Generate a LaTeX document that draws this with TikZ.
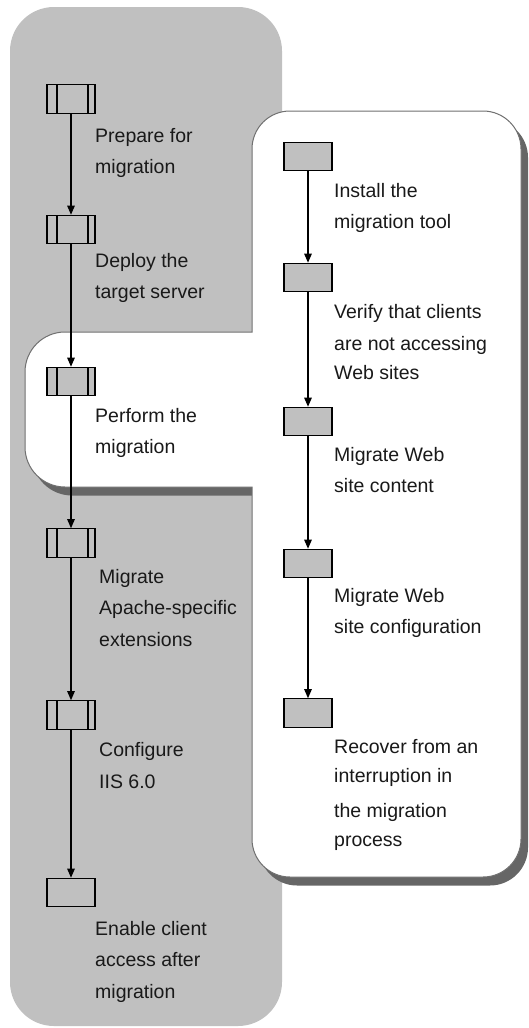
\documentclass[tikz,border=0pt]{standalone}
\usepackage{fontspec}
\setmainfont{Liberation Sans}
\usetikzlibrary{arrows.meta}
\definecolor{panelgray}{HTML}{C0C0C0}
\definecolor{shadowgray}{HTML}{666666}
\definecolor{edgegray}{HTML}{707070}

% outline of the white sub-process panel (right column plus tab on the left)
\newcommand{\subpanelpath}{%
  (252,332) -- (252,149) arc[start angle=180,end angle=270,radius=38]
  -- (483,111) arc[start angle=270,end angle=360,radius=38]
  -- (521,839) arc[start angle=0,end angle=90,radius=38]
  -- (290,877) arc[start angle=90,end angle=180,radius=38]
  -- (252,487) -- (65,487) arc[start angle=90,end angle=180,radius=40]
  -- (25,372) arc[start angle=180,end angle=270,radius=40] -- cycle}

\begin{document}
\begin{tikzpicture}[x=1pt,y=-1pt,
  stepbox/.style={draw=black, line width=1.1pt, fill=panelgray,
    minimum width=48pt, minimum height=28.5pt, inner sep=0pt},
  procbox/.style={stepbox,
    path picture={
      \draw[line width=1.1pt]
        ([xshift=10pt]path picture bounding box.north west) --
        ([xshift=10pt]path picture bounding box.south west);
      \draw[line width=1.1pt]
        ([xshift=-7pt]path picture bounding box.north east) --
        ([xshift=-7pt]path picture bounding box.south east);}},
  plainbox/.style={draw=black, line width=1.1pt, fill=panelgray,
    minimum width=48pt, minimum height=28.5pt, inner sep=0pt},
  flow/.style={line width=1.1pt, draw=black,
    -{Triangle[length=9pt,width=7.5pt]}},
  % labels are placed by the baseline of their last line
  lbl/.style={font=\fontsize{19.5}{31.5}\selectfont, align=left,
    anchor=base west, inner sep=0pt, text=black!90}]

\useasboundingbox (0,0) rectangle (529,1028);

% main gray panel
\fill[panelgray] (10,7) [rounded corners=44pt] rectangle (282,1026);

% white sub-process panel with its drop shadow
\fill[shadowgray, xshift=7pt, yshift=-8.5pt] \subpanelpath;
\filldraw[fill=white, draw=edgegray, line width=1pt] \subpanelpath;

% main sequence
\node[procbox]  (p1) at (71,99)    {};
\node[procbox]  (p2) at (71,229.5) {};
\node[procbox]  (p3) at (71,381.5) {};
\node[procbox]  (p4) at (71,543)   {};
\node[procbox]  (p5) at (71,715)   {};
\node[plainbox] (p6) at (71,892.5) {};

\node[lbl] (l1) at (95,173.5) {Prepare for\\migration};
\node[lbl] (l2) at (95,298.5) {Deploy the\\target server};
\node[lbl] (l3) at (95,453.5) {Perform the\\migration};
\node[lbl] (l4) at (99,646)   {Migrate\\Apache-specific\\extensions};
\node[lbl] (l5) at (99,788)   {Configure\\IIS 6.0};
\node[lbl] (l6) at (95,998)   {Enable client\\access after\\migration};

\draw[flow] (p1) -- (p2);
\draw[flow] (p2) -- (p3);
\draw[flow] (p3) -- (p4);
\draw[flow] (p4) -- (p5);
\draw[flow] (p5) -- (p6);

% migration sub-steps
\node[stepbox] (s1) at (308,156.5) {};
\node[stepbox] (s2) at (308,277.5) {};
\node[stepbox] (s3) at (308,421.5) {};
\node[stepbox] (s4) at (308,563.5) {};
\node[stepbox] (s5) at (308,713)   {};

\node[lbl] (m1) at (334,228.5) {Install the\\migration tool};
\node[lbl] (m2) at (334,379)   {Verify that clients\\[0.5pt]are not accessing\\[-2.5pt]Web sites};
\node[lbl] (m3) at (334,492.5) {Migrate Web\\site content};
\node[lbl] (m4) at (334,633.5) {Migrate Web\\site configuration};
\node[lbl] (m5) at (334,846)   {Recover from an\\[-2pt]interruption in\\[3.5pt]the migration\\[-3pt]process};

\draw[flow] (s1) -- (s2);
\draw[flow] (s2) -- (s3);
\draw[flow] (s3) -- (s4);
\draw[flow] (s4) -- (s5);
\end{tikzpicture}
\end{document}
